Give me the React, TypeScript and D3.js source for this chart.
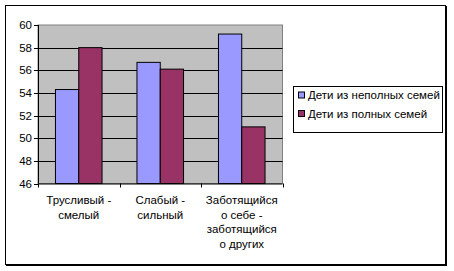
import React from "react";
import * as d3 from "d3";

const categories: string[][] = [
  ["Трусливый -", "смелый"],
  ["Слабый -", "сильный"],
  ["Заботящийся", "о себе -", "заботящийся", "о других"],
];
const seriesNames = ["Дети из неполных семей", "Дети из полных семей"];
const incomplete = [54.3, 56.7, 59.2];
const complete = [58.0, 56.1, 51.0];
const yTicks = [46, 48, 50, 52, 54, 56, 58, 60];
const colors = ["#9999FF", "#993366"];

export default function App() {
  const W = 454, H = 271;
  const left = 38, right = 282.5, top = 25, bottom = 183.5;
  const x = d3.scaleBand<number>().domain([0, 1, 2]).range([left, right]).paddingInner(0).paddingOuter(0);
  const y = d3.scaleLinear().domain([46, 60]).range([bottom, top]);
  const bw = x.bandwidth();
  const barW = bw / 3.5;
  const series = [incomplete, complete];
  const font = "'Liberation Sans', Arial, sans-serif";
  return (
    <svg width={W} height={H} style={{ position: "absolute", left: 0, top: 0 }} fontFamily={font}>
      <rect x={0} y={0} width={W} height={H} fill="#fff" />
      <rect x={5.5} y={5.5} width={440} height={259} fill="#fff" stroke="#000" strokeWidth={1} />
      <line x1={446.5} y1={6} x2={446.5} y2={266} stroke="#000" strokeWidth={1} />
      <line x1={6} y1={265.5} x2={447} y2={265.5} stroke="#000" strokeWidth={1} />
      <rect x={left} y={top} width={right - left} height={bottom - top} fill="#C0C0C0" stroke="#808080" strokeWidth={1} />
      {yTicks.map((t) => (
        <g key={t}>
          {t !== 46 && t !== 60 && (
            <line x1={left} x2={right} y1={Math.round(y(t)) + 0.5} y2={Math.round(y(t)) + 0.5} stroke="#000" />
          )}
          <line x1={left - 4} x2={left} y1={Math.round(y(t)) + 0.5} y2={Math.round(y(t)) + 0.5} stroke="#000" />
          <text x={left - 6} y={y(t)} dy="0.35em" textAnchor="end" fontSize={11.5} fill="#000">{t}</text>
        </g>
      ))}
      {series.map((vals, s) =>
        vals.map((v, i) => {
          const x0 = (x(i) as number) + (bw - 2 * barW) / 2 + s * barW;
          return (
            <rect key={`${s}-${i}`} x={x0} y={y(v)} width={barW} height={bottom - y(v)} fill={colors[s]} stroke="#000" strokeWidth={1} />
          );
        })
      )}
      <line x1={left + 0.5} x2={left + 0.5} y1={top} y2={bottom} stroke="#000" />
      <line x1={left} x2={right} y1={bottom + 0.5} y2={bottom + 0.5} stroke="#000" />
      {[0, 1, 2, 3].map((k) => {
        const xx = Math.round(left + k * bw) + 0.5;
        return <line key={k} x1={xx} x2={xx} y1={bottom} y2={bottom + 4} stroke="#000" />;
      })}
      {categories.map((lines, i) => (
        <text key={i} textAnchor="middle" fontSize={11.5} fill="#000">
          {lines.map((ln, j) => (
            <tspan key={j} x={(x(i) as number) + bw / 2} y={204 + j * 14.7}>{ln}</tspan>
          ))}
        </text>
      ))}
      <rect x={293.5} y={86.5} width={149} height={46} fill="#fff" stroke="#000" />
      {seriesNames.map((n, s) => (
        <g key={n}>
          <rect x={298.5} y={92 + s * 18.5} width={6} height={6} fill={colors[s]} stroke="#000" />
          <text x={308} y={95 + s * 18.5} dy="0.35em" fontSize={11.5} fill="#000">{n}</text>
        </g>
      ))}
    </svg>
  );
}
